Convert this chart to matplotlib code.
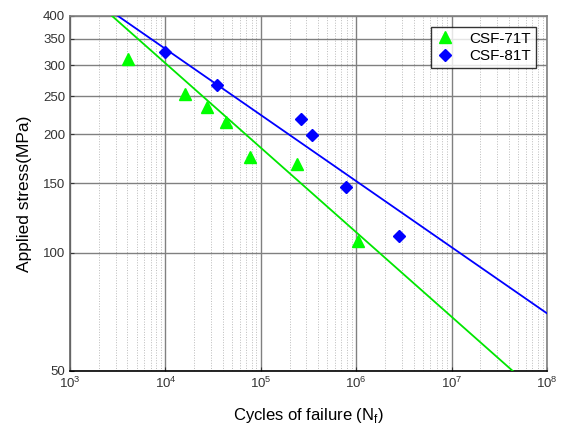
import numpy as np
import matplotlib
matplotlib.use('Agg')
import matplotlib.pyplot as plt
from matplotlib.ticker import FixedLocator, NullLocator, FixedFormatter, LogLocator

plt.rcParams['font.family'] = ['Liberation Sans', 'DejaVu Sans']
plt.rcParams['mathtext.fontset'] = 'custom'
plt.rcParams['mathtext.rm'] = 'Liberation Sans'

# CSF-71T data (cycles, stress MPa)
n_71 = [4.1e3, 1.6e4, 2.73e4, 4.3e4, 7.7e4, 2.39e5, 1.04e6]
s_71 = [311, 253, 235, 215, 175, 168, 107]
# CSF-81T data
n_81 = [1.0e4, 3.47e4, 2.64e5, 3.44e5, 7.8e5, 2.81e6]
s_81 = [324, 267, 219, 199, 147, 110]

# Basquin fit: stress = A * N^b
fit_71 = (2197.0, -0.215)
fit_81 = (1553.0, -0.1682)

y_ticks = [50, 100, 150, 200, 250, 300, 350, 400]


def main():
    fig = plt.figure(figsize=(5.62, 4.25), dpi=100)
    ax = fig.add_axes([0.1246, 0.1271, 0.8487, 0.8353])
    ax.set_xscale('log')
    ax.set_yscale('log')
    ax.set_xlim(1e3, 1e8)
    ax.set_ylim(50, 400)

    nn = np.logspace(3, 8, 200)
    ax.plot(nn, fit_71[0] * nn ** fit_71[1], color='#00e600', lw=1.3, zorder=3)
    ax.plot(nn, fit_81[0] * nn ** fit_81[1], color='#0000ff', lw=1.3, zorder=3)

    ax.plot(n_71, s_71, linestyle='none', marker='^', ms=8, color='#00ff00',
            label='CSF-71T', zorder=4)
    ax.plot(n_81, s_81, linestyle='none', marker='D', ms=6.5, color='#0000ff',
            label='CSF-81T', zorder=4)

    ax.yaxis.set_major_locator(FixedLocator(y_ticks))
    ax.yaxis.set_major_formatter(FixedFormatter([str(v) for v in y_ticks]))
    ax.yaxis.set_minor_locator(NullLocator())
    ax.xaxis.set_major_locator(LogLocator(base=10, numticks=10))
    ax.xaxis.set_minor_locator(LogLocator(base=10, subs=np.arange(2, 10), numticks=20))
    ax.xaxis.set_minor_formatter(plt.NullFormatter())

    ax.grid(True, which='major', color='#808080', lw=1.0, ls='-')
    ax.grid(True, which='minor', axis='x', color='#bbbbbb', lw=0.7, ls=':')
    ax.set_axisbelow(True)

    ax.tick_params(which='both', direction='in', length=3, labelsize=9.5, colors='#333333')
    ax.tick_params(which='minor', length=0)
    for sp in ['top', 'right']:
        ax.spines[sp].set_color('#808080')
    ax.spines['left'].set_color('#606060')
    ax.spines['bottom'].set_color('black')
    for sp in ax.spines.values():
        sp.set_linewidth(1.2)

    ax.set_xlabel('Cycles of failure (N$_\\mathrm{f}$)', fontsize=12, labelpad=11)
    ax.set_ylabel('Applied stress(MPa)', fontsize=12.5, labelpad=8)

    leg = ax.legend(loc='upper right', bbox_to_anchor=(0.977, 0.969), fontsize=11,
                    frameon=True, fancybox=False, edgecolor='black',
                    handletextpad=1.0, borderpad=0.3, labelspacing=0.25,
                    handlelength=1.2, borderaxespad=0)
    leg.get_frame().set_linewidth(1.0)

    fig.savefig('out.png', dpi=100)


if __name__ == "__main__":
    main()
